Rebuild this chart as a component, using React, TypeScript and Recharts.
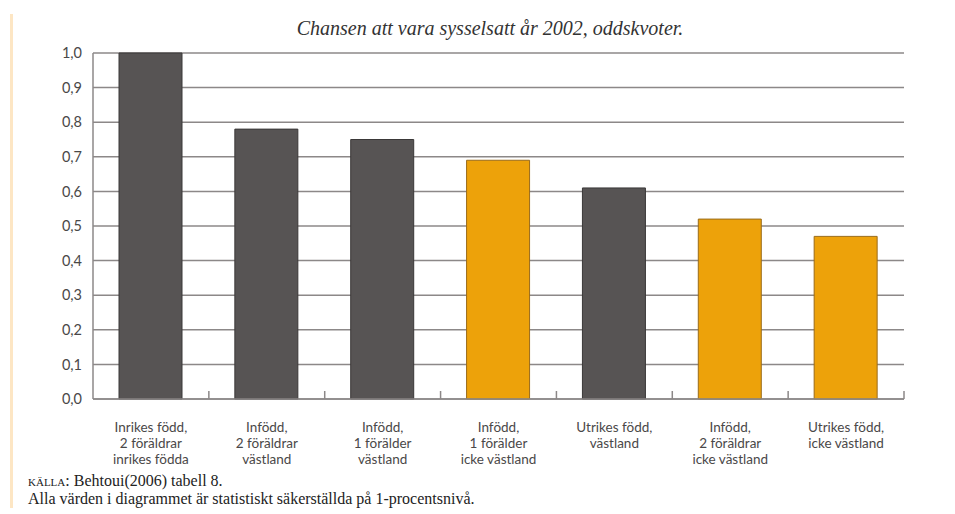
import { BarChart, Bar, XAxis, YAxis, CartesianGrid, Cell } from 'recharts'

const categories = [
  'Inrikes född,\n2 föräldrar\ninrikes födda',
  'Infödd,\n2 föräldrar\nvästland',
  'Infödd,\n1 förälder\nvästland',
  'Infödd,\n1 förälder\nicke västland',
  'Utrikes född,\nvästland',
  'Infödd,\n2 föräldrar\nicke västland',
  'Utrikes född,\nicke västland',
]
const odds = [1.0, 0.78, 0.75, 0.69, 0.61, 0.52, 0.47]
const ickeVastland = [false, false, false, true, false, true, true]
const yTicks = [0, 0.1, 0.2, 0.3, 0.4, 0.5, 0.6, 0.7, 0.8, 0.9, 1.0]
const boundaryTicks = [1, 2, 3, 4, 5, 6, 7]

const title = 'Chansen att vara sysselsatt år 2002, oddskvoter.'
const source = 'Behtoui(2006) tabell 8.'
const note = 'Alla värden i diagrammet är statistiskt säkerställda på 1-procentsnivå.'

const data = categories.map((name, i) => ({ name, value: odds[i], idx: i }))

const sans = 'Lato, "Open Sans", sans-serif'
const serif = '"Liberation Serif", "DejaVu Serif", serif'

interface TickProps {
  x?: number
  y?: number
  payload?: { value: string }
}

function CategoryTick({ x = 0, y = 0, payload }: TickProps) {
  const lines = (payload?.value ?? '').split('\n')
  return (
    <text x={x} y={y} textAnchor="middle" fill="#4a4848" fontSize={13.5} fontFamily={sans}>
      {lines.map((l, i) => (
        <tspan key={i} x={x} dy={i === 0 ? 25 : 16}>
          {l}
        </tspan>
      ))}
    </text>
  )
}

export default function App() {
  return (
    <div style={{ position: 'fixed', left: 0, top: 0, width: 955, height: 514, background: '#fff' }}>
      <div
        style={{
          position: 'absolute',
          left: 10,
          top: 14,
          width: 3,
          height: 494,
          background: '#fde6c4',
        }}
      />
      <div
        style={{
          position: 'absolute',
          left: 0,
          width: 980,
          top: 17,
          textAlign: 'center',
          fontFamily: serif,
          fontStyle: 'italic',
          fontSize: 20,
          color: '#333',
        }}
      >
        {title}
      </div>
      <div style={{ position: 'absolute', top: 0, left: 0 }}>
        <BarChart
          width={955}
          height={514}
          data={data}
          margin={{ top: 53, right: 51, left: 43, bottom: 55 }}
        >
          <CartesianGrid vertical={false} stroke="#8c8888" strokeWidth={1.5} />
          <XAxis
            xAxisId="bounds"
            type="number"
            dataKey="idx"
            domain={[0, 7]}
            allowDataOverflow
            ticks={boundaryTicks}
            interval={0}
            height={1}
            mirror
            tickSize={8}
            tickFormatter={() => ''}
            axisLine={false}
            tickLine={{ stroke: '#8c8888', strokeWidth: 1.5 }}
          />
          <XAxis
            xAxisId="cat"
            dataKey="name"
            height={60}
            interval={0}
            tickLine={false}
            axisLine={{ stroke: '#8c8888', strokeWidth: 1.5 }}
            tick={<CategoryTick />}
          />
          <YAxis
            width={50}
            domain={[0, 1]}
            ticks={yTicks}
            interval={0}
            tickLine={false}
            tickMargin={5}
            axisLine={{ stroke: '#8c8888', strokeWidth: 1.5 }}
            tickFormatter={(v: number) => v.toFixed(1).replace('.', ',')}
            tick={{ fill: '#4a4848', fontSize: 14.5, fontFamily: sans }}
          />
          <Bar dataKey="value" xAxisId="cat" barSize={63} isAnimationActive={false}>
            {data.map((d) => (
              <Cell
                key={d.idx}
                fill={ickeVastland[d.idx] ? '#eda20a' : '#575454'}
                stroke={ickeVastland[d.idx] ? '#9a6b1a' : '#3a3838'}
                strokeWidth={1}
              />
            ))}
          </Bar>
        </BarChart>
      </div>
      <div
        style={{
          position: 'absolute',
          left: 28,
          top: 472,
          fontFamily: serif,
          fontSize: 16,
          color: '#222',
          lineHeight: '18px',
        }}
      >
        <div>
          <span style={{ fontVariant: 'small-caps' }}>källa</span>: {source}
        </div>
        <div>{note}</div>
      </div>
    </div>
  )
}
